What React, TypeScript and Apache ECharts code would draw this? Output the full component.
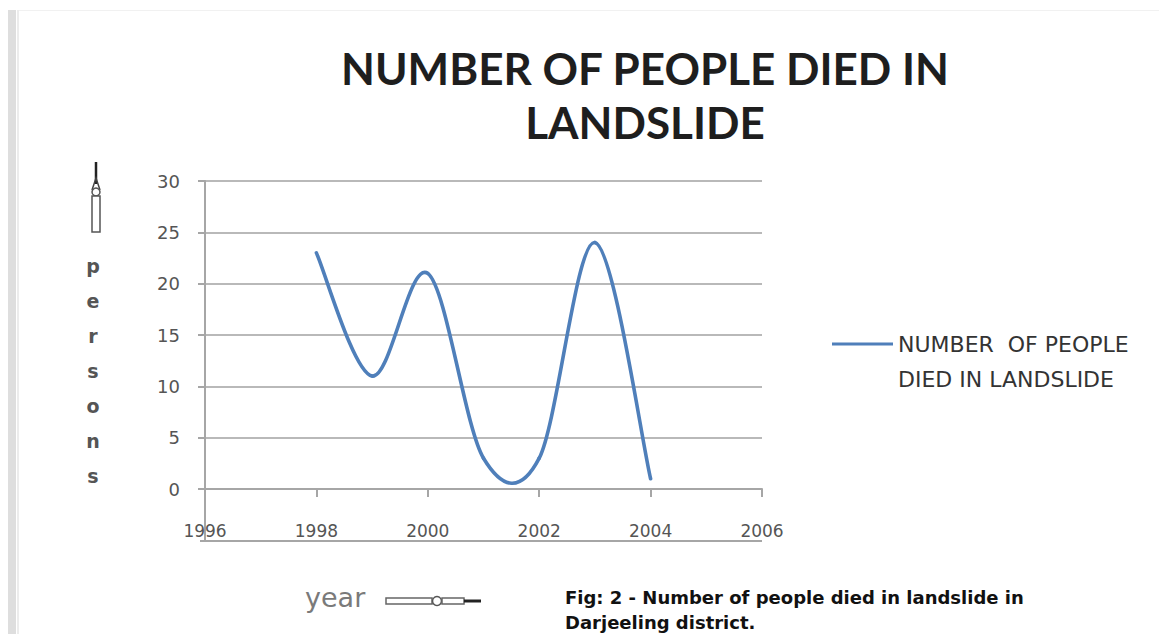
import React, { useEffect, useRef } from "react";
import * as echarts from "echarts";

const years = [1998, 1999, 2000, 2001, 2002, 2003, 2004];
const deaths = [23, 11, 21, 3, 3, 24, 1];
const xTicks = [1996, 1998, 2000, 2002, 2004, 2006];
const yTicks = [0, 5, 10, 15, 20, 25, 30];
const seriesName = "NUMBER OF PEOPLE DIED IN LANDSLIDE";
const titleLines = ["NUMBER OF PEOPLE DIED IN", "LANDSLIDE"];
const legendLines = ["NUMBER  OF PEOPLE", "DIED IN LANDSLIDE"];
const yAxisLetters = ["p", "e", "r", "s", "o", "n", "s"];
const captionLines = ["Fig: 2 - Number of people died in landslide in", "Darjeeling district."];

const LINE_COLOR = "#4f7fba";
const GRID_COLOR = "#b9b9b9";
const AXIS_COLOR = "#a6a6a6";

export default function App() {
  const ref = useRef<HTMLDivElement>(null);
  useEffect(() => {
    if (!ref.current) return;
    const chart = echarts.init(ref.current, null, { renderer: "svg" });
    const n = years.length;
    const option: any = {
      animation: false,
      backgroundColor: "#ffffff",
      grid: { left: 205, right: 397, top: 181, bottom: 145 },
      xAxis: {
        type: "value",
        min: xTicks[0],
        max: xTicks[xTicks.length - 1],
        interval: xTicks[1] - xTicks[0],
        axisLine: { show: true, onZero: false, lineStyle: { color: AXIS_COLOR, width: 2 } },
        axisTick: { show: true, length: 8, lineStyle: { color: AXIS_COLOR, width: 2 } },
        splitLine: { show: false },
        axisLabel: {
          margin: 33,
          color: "#555555",
          fontFamily: "DejaVu Sans",
          fontSize: 17,
          formatter: (v: number) => String(v),
        },
      },
      yAxis: {
        type: "value",
        min: yTicks[0],
        max: yTicks[yTicks.length - 1],
        interval: yTicks[1] - yTicks[0],
        axisLine: { show: true, lineStyle: { color: AXIS_COLOR, width: 2 } },
        axisTick: { show: true, length: 7, lineStyle: { color: AXIS_COLOR, width: 2 } },
        splitLine: { show: true, lineStyle: { color: GRID_COLOR, width: 2 } },
        axisLabel: {
          margin: 25,
          color: "#555555",
          fontFamily: "DejaVu Sans",
          fontSize: 18,
        },
      },
      legend: {
        show: true,
        left: 832,
        top: 304,
        padding: 0,
        itemWidth: 61,
        itemHeight: 3,
        itemGap: 3,
        data: [{ name: seriesName, icon: "rect" }],
        formatter: () => `{e| }\n{a|${legendLines[0]}}\n{a|${legendLines[1]}}`,
        textStyle: {
          rich: {
            e: { lineHeight: 35, fontSize: 10 },
            a: {
              lineHeight: 35,
              fontSize: 22,
              fontFamily: "DejaVu Sans",
              color: "#333333",
            },
          },
        },
      },
      series: [
        {
          type: "custom",
          name: seriesName,
          coordinateSystem: "cartesian2d",
          itemStyle: { color: LINE_COLOR },
          encode: { x: 0, y: 1 },
          data: years.map((y, i) => [y, deaths[i]]),
          renderItem: (params: any, api: any) => {
            const i = params.dataIndex;
            if (i >= n - 1) return null;
            const P = (k: number) => {
              const kk = Math.max(0, Math.min(n - 1, k));
              return api.coord([years[kk], deaths[kk]]);
            };
            const p0 = P(i - 1), p1 = P(i), p2 = P(i + 1), p3 = P(i + 2);
            return {
              type: "bezierCurve",
              shape: {
                x1: p1[0],
                y1: p1[1],
                x2: p2[0],
                y2: p2[1],
                cpx1: p1[0] + (p2[0] - p0[0]) / 6,
                cpy1: p1[1] + (p2[1] - p0[1]) / 6,
                cpx2: p2[0] - (p3[0] - p1[0]) / 6,
                cpy2: p2[1] - (p3[1] - p1[1]) / 6,
              },
              style: { stroke: LINE_COLOR, lineWidth: 3.6, fill: null, lineCap: "round" },
            };
          },
        },
      ],
      graphic: [
        // page frame
        { type: "rect", shape: { x: 8, y: 10, width: 8, height: 624 }, style: { fill: "#dedede" } },
        { type: "rect", shape: { x: 17, y: 10, width: 2, height: 624 }, style: { fill: "#ececec" } },
        { type: "rect", shape: { x: 19, y: 10, width: 1140, height: 1 }, style: { fill: "#f1f1f1" } },
        // title
        {
          type: "text",
          x: 645,
          y: 95,
          style: {
            text: titleLines.join("\n"),
            font: "bold 44px Lato",
            fill: "#1e1e1e",
            align: "center",
            verticalAlign: "middle",
            lineHeight: 54,
          },
        },
        // extended axis lines below labels
        { type: "line", shape: { x1: 205, y1: 489, x2: 205, y2: 541 }, style: { stroke: AXIS_COLOR, lineWidth: 2 } },
        { type: "line", shape: { x1: 200, y1: 541, x2: 762, y2: 541 }, style: { stroke: AXIS_COLOR, lineWidth: 2 } },
        // vertical "persons" label with arrow
        {
          type: "text",
          x: 93,
          y: 248,
          style: {
            text: yAxisLetters.join("\n"),
            font: "bold 19px 'DejaVu Sans'",
            fill: "#555555",
            align: "center",
            verticalAlign: "top",
            lineHeight: 35,
          },
        },
        { type: "line", shape: { x1: 96, y1: 162, x2: 96, y2: 184 }, style: { stroke: "#222", lineWidth: 2.5 } },
        { type: "polyline", shape: { points: [[92, 190], [96, 178], [100, 190]] }, style: { stroke: "#444", lineWidth: 1.5, fill: null } },
        { type: "circle", shape: { cx: 96, cy: 192, r: 4 }, style: { stroke: "#555", lineWidth: 1.5, fill: "#fff" } },
        { type: "rect", shape: { x: 92, y: 196, width: 8, height: 36 }, style: { stroke: "#555", lineWidth: 1.5, fill: "#fff" } },
        // "year" label with arrow
        {
          type: "text",
          x: 305,
          y: 597,
          style: {
            text: "year",
            font: "27px 'DejaVu Sans'",
            fill: "#7a7a7a",
            align: "left",
            verticalAlign: "middle",
          },
        },
        { type: "rect", shape: { x: 386, y: 598, width: 46, height: 6 }, style: { stroke: "#666", lineWidth: 1.5, fill: "#fff" } },
        { type: "circle", shape: { cx: 437, cy: 601, r: 4.5 }, style: { stroke: "#555", lineWidth: 1.5, fill: "#fff" } },
        { type: "rect", shape: { x: 442, y: 598, width: 22, height: 6 }, style: { stroke: "#666", lineWidth: 1.5, fill: "#fff" } },
        { type: "line", shape: { x1: 464, y1: 601, x2: 481, y2: 601 }, style: { stroke: "#222", lineWidth: 3 } },
        // caption
        {
          type: "text",
          x: 565,
          y: 609.5,
          style: {
            text: captionLines.join("\n"),
            font: "bold 18px 'DejaVu Sans'",
            fill: "#111",
            align: "left",
            verticalAlign: "middle",
            lineHeight: 25,
          },
        },
      ],
    };
    chart.setOption(option);
    return () => chart.dispose();
  }, []);
  return (
    <div
      ref={ref}
      style={{ position: "absolute", left: 0, top: 0, width: 1159, height: 634 }}
    />
  );
}
